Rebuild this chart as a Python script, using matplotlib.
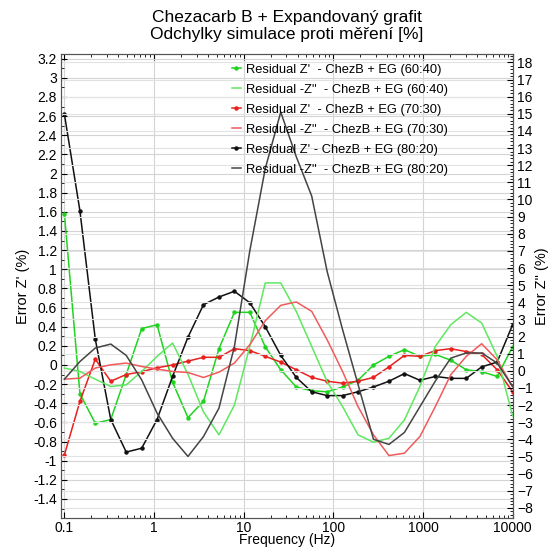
import matplotlib.pyplot as plt
from matplotlib.ticker import FixedLocator, MultipleLocator, FormatStrFormatter, LogLocator, NullFormatter

plt.rcParams['font.family'] = ['Liberation Sans', 'DejaVu Sans']

# measured frequencies (Hz)
freq = [0.1, 0.149, 0.221, 0.329, 0.489, 0.728, 1.08, 1.61, 2.39, 3.56,
        5.30, 7.88, 11.7, 17.4, 25.9, 38.6, 57.4, 85.3, 126.9, 188.7,
        280.7, 417.5, 621.0, 924.0, 1374.0, 2043.0, 3039.0, 4520.0, 6723.0, 10000.0]

# residuals of Z' (left axis, %)
re_6040 = [1.58, -0.30, -0.61, -0.57, -0.10, 0.38, 0.42, -0.18, -0.55, -0.38,
           0.17, 0.55, 0.55, 0.19, -0.05, -0.23, -0.27, -0.28, -0.23, -0.16,
           0.0, 0.09, 0.16, 0.09, 0.11, 0.05, -0.05, -0.07, -0.12, 0.19]
re_7030 = [-0.94, -0.38, 0.06, -0.17, -0.10, -0.07, -0.03, 0.0, 0.04, 0.08,
           0.08, 0.17, 0.15, 0.09, 0.03, -0.05, -0.13, -0.17, -0.19, -0.17,
           -0.13, -0.02, 0.10, 0.09, 0.15, 0.17, 0.14, 0.11, -0.05, -0.28]
re_8020 = [2.62, 1.61, 0.27, -0.57, -0.91, -0.87, -0.57, -0.12, 0.29, 0.63,
           0.71, 0.77, 0.65, 0.40, 0.10, -0.13, -0.28, -0.32, -0.32, -0.28,
           -0.23, -0.17, -0.09, -0.16, -0.12, -0.14, -0.14, -0.02, 0.03, 0.42]

# residuals of -Z'' (right axis, %)
im_6040 = [0.16, -0.04, -0.49, -0.92, -0.82, -0.04, 0.84, 1.62, -0.2, -2.4,
           -3.74, -2.0, 1.42, 5.13, 5.13, 3.47, 1.42, -0.63, -2.09, -3.74,
           -4.17, -3.94, -2.87, -0.92, 1.42, 2.69, 3.41, 2.79, 0.84, -2.63]
im_7030 = [-0.49, -0.43, 0.16, 0.35, 0.45, 0.25, 0.10, -0.04, -0.10, -0.39,
           -0.08, 0.45, 1.52, 2.92, 3.82, 4.02, 3.47, 1.81, -0.04, -2.09,
           -3.74, -4.95, -4.81, -3.84, -2.09, -0.23, 0.84, 1.58, 0.64, -0.92]
im_8020 = [-0.49, 0.54, 1.33, 1.56, 0.90, -0.53, -2.47, -3.94, -5.0, -3.84,
           -2.18, 1.42, 7.0, 11.8, 15.1, 12.5, 10.2, 5.8, 2.4, -0.8,
           -4.0, -4.3, -3.6, -2.1, -0.6, 0.74, 1.04, 1.04, 0.45, -0.92]

labels_re = ["Residual Z'  - ChezB + EG (60:40)",
             "Residual Z'  - ChezB + EG (70:30)",
             "Residual Z' - ChezB + EG (80:20)"]
labels_im = ["Residual -Z\"  - ChezB + EG (60:40)",
             "Residual -Z\"  - ChezB + EG (70:30)",
             "Residual -Z\"  - ChezB + EG (80:20)"]

col_re = ['#1ed41e', '#e8201e', '#111111']
col_im = ['#5ee85e', '#f05a5a', '#444444']

fig = plt.figure(figsize=(5.51, 5.5), dpi=100)
ax = fig.add_axes([0.111, 0.058, 0.820, 0.844])
ax2 = ax.twinx()

ax.set_xscale('log')
ax.set_xlim(0.092, 10100)
ax.set_ylim(-1.6, 3.25)
ax2.set_ylim(-8.6, 18.5)

# axes, ticks and grid
ax.yaxis.set_major_locator(MultipleLocator(0.2))
ax.yaxis.set_minor_locator(MultipleLocator(0.1))
ax.yaxis.set_major_formatter(FormatStrFormatter('%g'))
ax2.yaxis.set_major_locator(MultipleLocator(1))
ax2.yaxis.set_minor_locator(MultipleLocator(0.2))
ax.xaxis.set_major_locator(FixedLocator([0.1, 1, 10, 100, 1000, 10000]))
ax.xaxis.set_major_formatter(FormatStrFormatter('%g'))
ax.xaxis.set_minor_locator(LogLocator(base=10, subs=range(2, 10)))
ax.xaxis.set_minor_formatter(NullFormatter())

ax.grid(True, which='major', axis='both', color='#d4d4d4', lw=0.8)
ax2.grid(True, which='major', axis='y', color='#e2e2e2', lw=0.8)
ax.set_axisbelow(True)
ax2.set_axisbelow(True)

ax.tick_params(axis='both', which='both', direction='in', top=True, labelsize=10, pad=3)
ax.tick_params(axis='y', which='major', length=4)
ax.tick_params(axis='y', which='minor', length=2)
ax.tick_params(axis='x', which='major', length=4, pad=2)
ax.tick_params(axis='x', which='minor', length=2.5)
ax2.tick_params(axis='y', which='major', direction='in', length=4, labelsize=10, pad=3)
ax2.tick_params(axis='y', which='minor', direction='in', length=2)
ax.yaxis.set_ticks(ax.get_yticks()[(ax.get_yticks() >= -1.41) & (ax.get_yticks() <= 3.21)])
ax2.yaxis.set_ticks(range(-8, 19))

for sp in list(ax.spines.values()) + list(ax2.spines.values()):
    sp.set_color('#555555')
    sp.set_linewidth(0.8)

handles = []
for y, c, lab in zip([re_6040, re_7030, re_8020], col_re, labels_re):
    h, = ax.plot(freq, y, color=c, lw=1.1, marker='o', ms=2.2, label=lab)
    handles.append(h)
handles_im = []
for y, c, lab in zip([im_6040, im_7030, im_8020], col_im, labels_im):
    h, = ax2.plot(freq, y, color=c, lw=1.1, label=lab)
    handles_im.append(h)

order = [handles[0], handles_im[0], handles[1], handles_im[1], handles[2], handles_im[2]]
ax2.legend(handles=order, loc='upper right', bbox_to_anchor=(0.878, 1.0),
           frameon=False, fontsize=9.3, handlelength=0.7, handletextpad=0.4,
           labelspacing=0.62, borderaxespad=0.35)

ax.set_xlabel('Frequency (Hz)', fontsize=10, labelpad=-1)
ax.set_ylabel("Error Z' (%)", fontsize=10.5, labelpad=2)
ax2.set_ylabel('Error Z" (%)', fontsize=10.5, labelpad=1)
ax.set_title("Chezacarb B + Expandovaný grafit\nOdchylky simulace proti měření [%]",
             fontsize=12.5, pad=11, linespacing=1.15)

fig.savefig('out.png', dpi=100)
